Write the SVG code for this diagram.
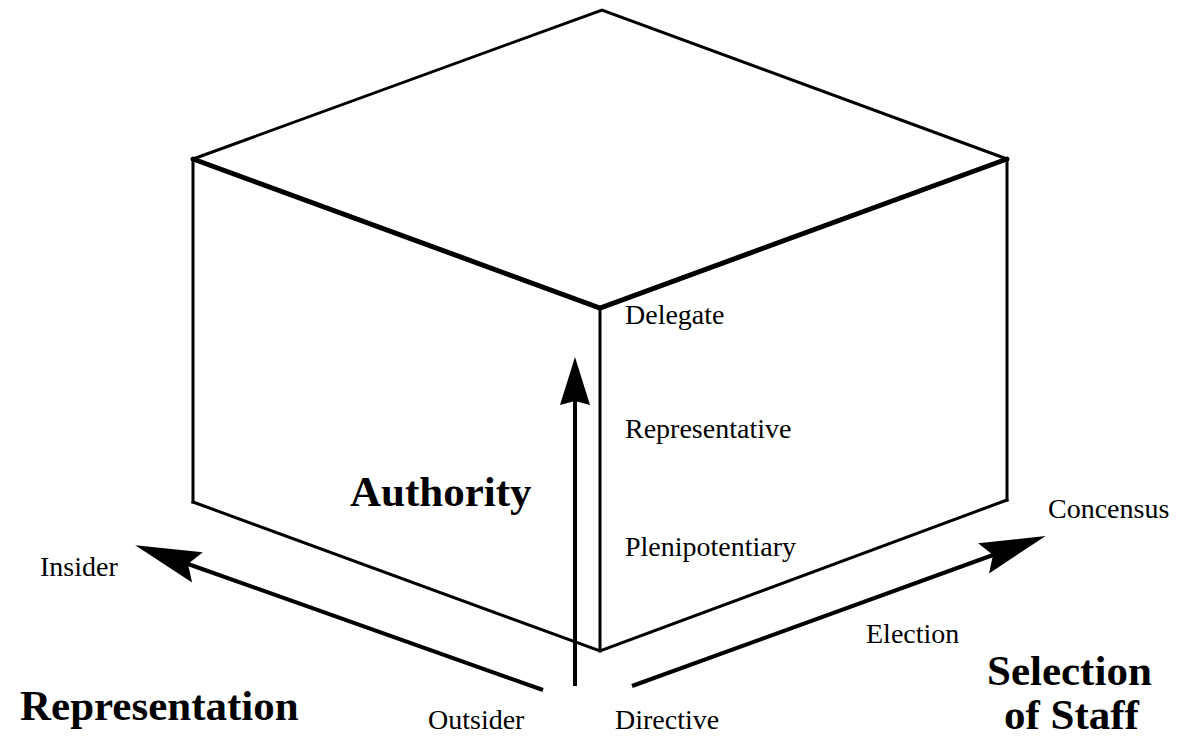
<svg xmlns="http://www.w3.org/2000/svg" width="1178" height="738" viewBox="0 0 1178 738">
  <style>
    .edge { fill: none; stroke: #000; stroke-width: 3; stroke-linejoin: miter; stroke-linecap: square; }
    .edge-heavy { fill: none; stroke: #000; stroke-width: 5; stroke-linecap: round; }
    .axis { fill: none; stroke: #000; stroke-width: 4; }
    .lbl { font-family: "Liberation Serif", "Times New Roman", serif; font-size: 28px; fill: #000; }
    .title { font-family: "Liberation Serif", "Times New Roman", serif; font-size: 43px; font-weight: bold; fill: #000; }
  </style>
  <defs>
    <!-- diagonal axis head: notch sits at the line end, tip reaches 56px beyond -->
    <marker id="headDiag" markerUnits="userSpaceOnUse" viewBox="-12 -18 70 36" refX="0" refY="0" markerWidth="70" markerHeight="36" orient="auto">
      <path d="M56,0 L-10,-16 L0,0 L-10,16 Z" fill="#000"/>
    </marker>
    <!-- vertical axis head -->
    <marker id="headUp" markerUnits="userSpaceOnUse" viewBox="-6 -17 52 34" refX="0" refY="0" markerWidth="52" markerHeight="34" orient="auto">
      <path d="M44,0 L-4,-15 L0,0 L-4,15 Z" fill="#000"/>
    </marker>
  </defs>
  <rect width="1178" height="738" fill="#fff"/>

  <!-- the cube -->
  <g id="cube">
    <polyline class="edge" points="193,159 602,10 1007,159"/>
    <line class="edge" x1="193" y1="159" x2="193" y2="502"/>
    <line class="edge" x1="600" y1="308" x2="600" y2="651"/>
    <line class="edge" x1="1007" y1="159" x2="1007" y2="500"/>
    <polyline class="edge" points="193,502 600,651 1007,500"/>
    <polyline class="edge-heavy" points="193,159 600,308 1007,159"/>
  </g>

  <!-- axes -->
  <g id="connectors">
    <line class="axis" x1="575" y1="686" x2="575" y2="401" marker-end="url(#headUp)"/>
    <line class="axis" x1="543" y1="690" x2="188" y2="564" marker-end="url(#headDiag)"/>
    <line class="axis" x1="632" y1="686" x2="993" y2="555" marker-end="url(#headDiag)"/>
  </g>

  <g id="authority-axis">
    <text class="title" x="350" y="506">Authority</text>
    <text class="lbl" x="625" y="324">Delegate</text>
    <text class="lbl" x="625" y="438">Representative</text>
    <text class="lbl" x="625" y="556">Plenipotentiary</text>
  </g>

  <g id="representation-axis">
    <text class="title" x="20" y="720">Representation</text>
    <text class="lbl" x="40" y="576">Insider</text>
    <text class="lbl" x="428" y="729">Outsider</text>
  </g>

  <g id="selection-axis">
    <text class="title" x="987" y="685">Selection</text>
    <text class="title" x="1004" y="729">of Staff</text>
    <text class="lbl" x="1048" y="518">Concensus</text>
    <text class="lbl" x="866" y="643">Election</text>
    <text class="lbl" x="615" y="729">Directive</text>
  </g>
</svg>
